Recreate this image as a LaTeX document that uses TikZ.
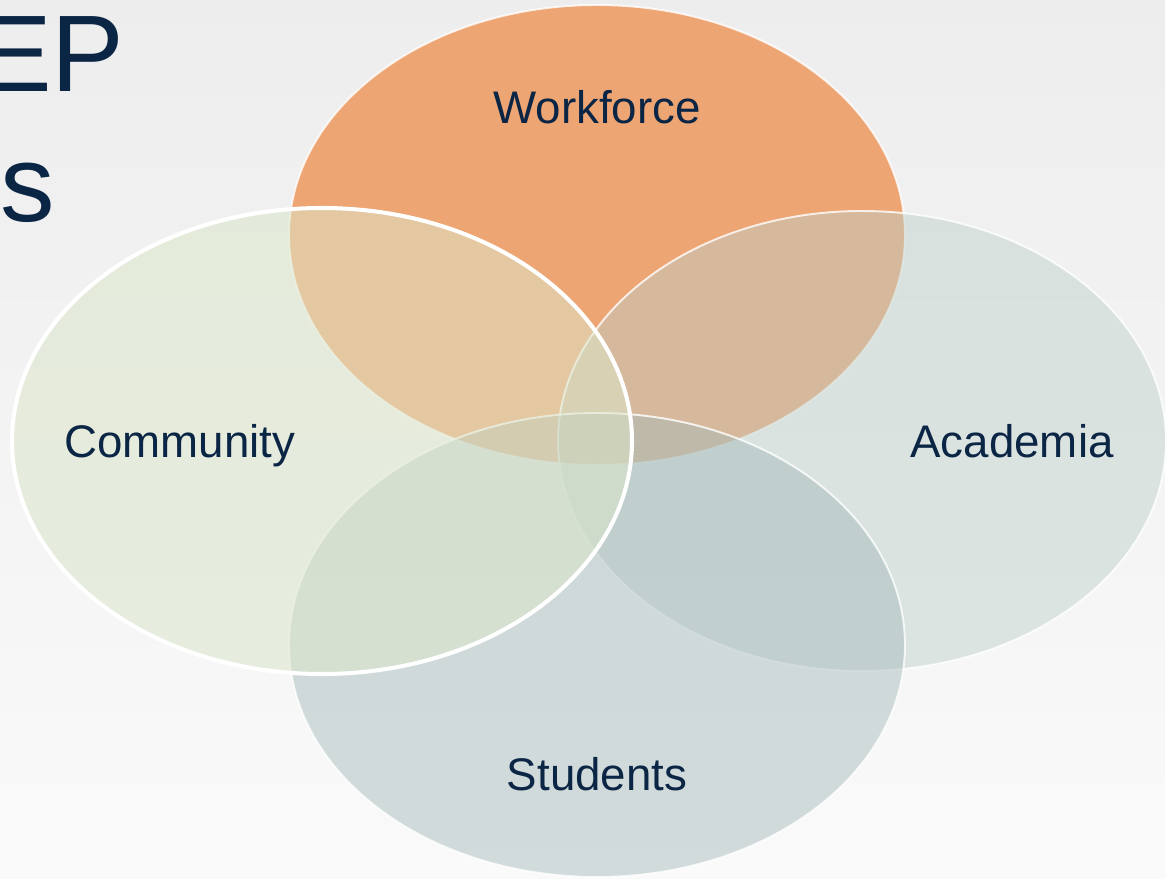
\documentclass[tikz,border=0pt]{standalone}
\usepackage{fontspec}
\setmainfont{Liberation Sans}
\definecolor{navy}{HTML}{0B2545}
\definecolor{wforange}{RGB}{237,165,116}
\definecolor{acgray}{RGB}{189,208,202}
\definecolor{stgray}{RGB}{164,185,185}
\definecolor{cmgreen}{RGB}{219,230,202}

\begin{document}
\begin{tikzpicture}[x=0.02cm, y=-0.02cm,
		vlabel/.style={text=navy, font=\fontsize{26}{30}\selectfont, inner sep=0, anchor=base},
		headtext/.style={text=navy, font=\fontsize{62}{70}\selectfont, inner sep=0}]
			%%%%% START %%%%%
			
			\useasboundingbox (0, 0) rectangle (1165, 878);
			\clip (0, 0) rectangle (1165, 878);
			\shade[top color=black!7, bottom color=black!2] (0, 0) rectangle (1165, 878);
			
			\node[headtext, anchor=base east] (titleA) at (125, 92) {EP};
			\node[headtext, anchor=base west] (titleB) at (0, 222) {s};
			
			\fill[wforange] (597, 235) ellipse [x radius=308, y radius=230];
			\draw[white, line width=1.1pt, draw opacity=0.8] (597, 235) ellipse [x radius=308, y radius=230];
			
			\draw[white, line width=1.1pt, draw opacity=0.8, fill=acgray, fill opacity=0.47] (862, 441) ellipse [x radius=304, y radius=230];
			
			\draw[white, line width=1.1pt, draw opacity=0.8, fill=stgray, fill opacity=0.47] (597, 645) ellipse [x radius=308, y radius=232];
			
			\draw[white, line width=2.3pt, fill=cmgreen, fill opacity=0.54] (322, 441) ellipse [x radius=310, y radius=233];
			
			\node[vlabel] (workforce) at (597, 124) {Workforce};
			\node[vlabel] (community) at (180, 457) {Community};
			\node[vlabel] (academia) at (1012, 457) {Academia};
			\node[vlabel] (students) at (597, 790) {Students};
			
			%%%%% END %%%%%
		\end{tikzpicture}
\end{document}
